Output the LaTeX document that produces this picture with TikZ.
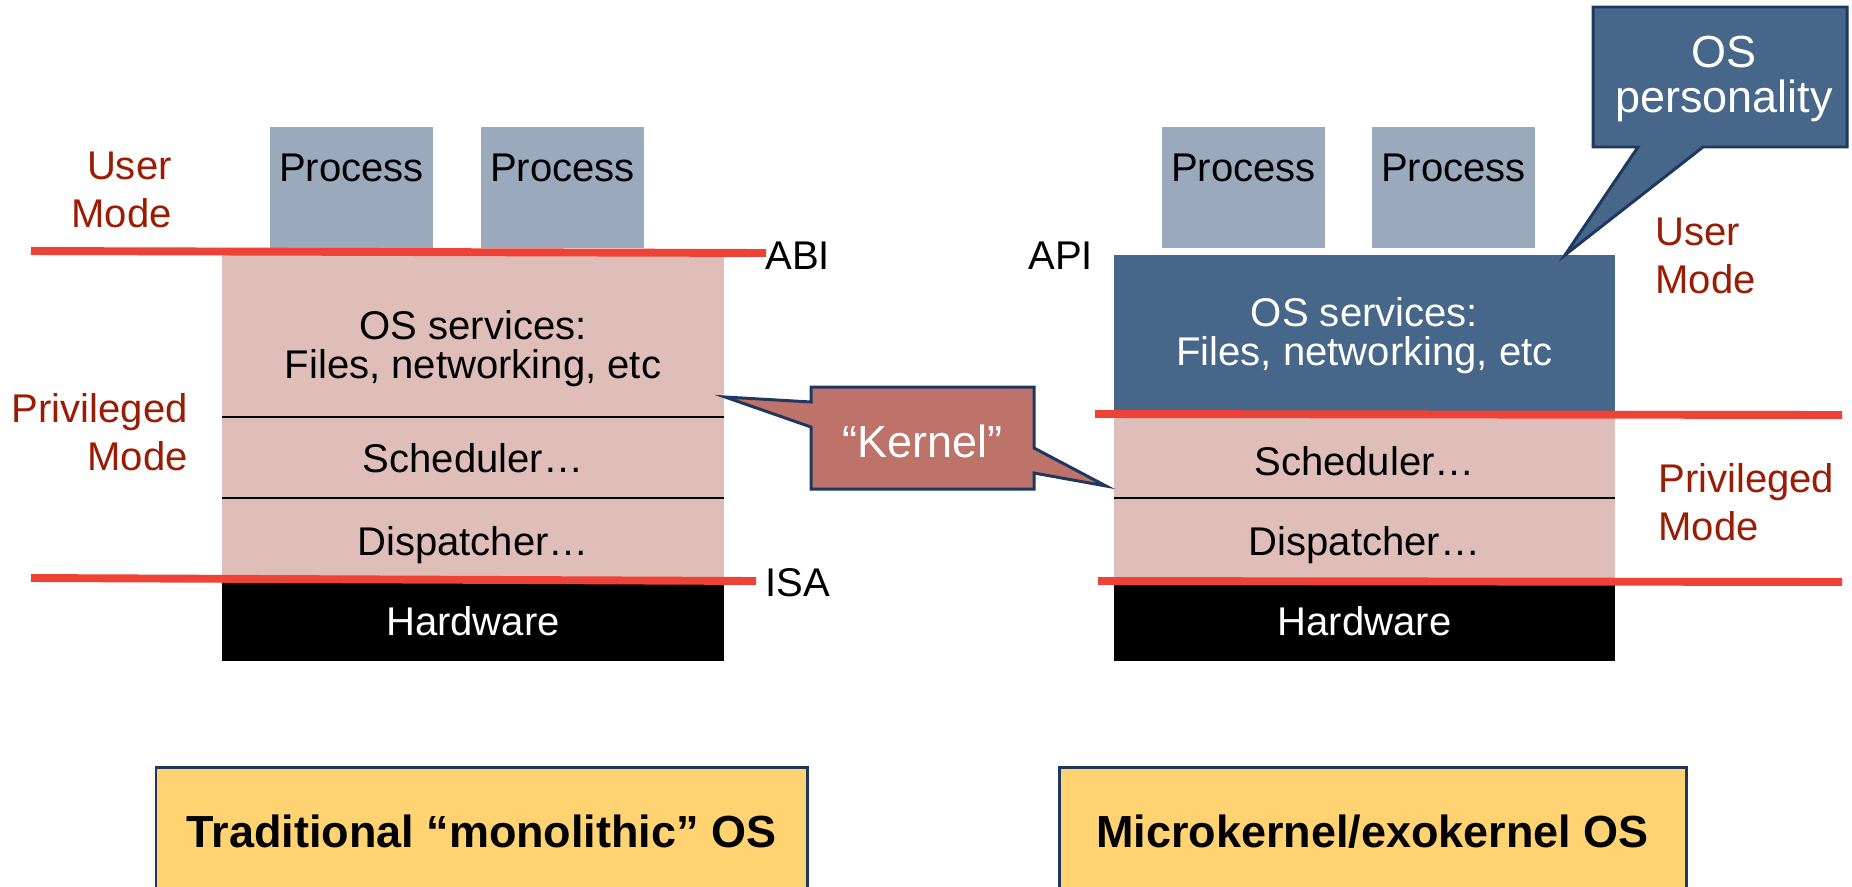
\documentclass[tikz,border=0pt]{standalone}
\usepackage{fontspec}
\setmainfont{Liberation Sans}
\usepackage{tikz}
\usetikzlibrary{positioning,calc}
\definecolor{procgray}{RGB}{154,169,188}
\definecolor{layerpink}{RGB}{223,189,184}
\definecolor{osblue}{RGB}{71,103,138}
\definecolor{kernred}{RGB}{189,115,106}
\definecolor{navy}{RGB}{31,56,96}
\definecolor{modered}{RGB}{155,28,5}
\definecolor{boundred}{RGB}{238,66,54}
\definecolor{notegold}{RGB}{255,211,114}
\tikzstyle{txt}=[inner sep=0pt, anchor=base, font=\fontsize{22.8}{27.3}\selectfont]
\tikzstyle{big}=[inner sep=0pt, anchor=base, font=\fontsize{25.6}{25.6}\selectfont]
\tikzstyle{mode}=[txt, text=modered]
\tikzstyle{bound}=[draw=boundred, line width=4.5pt]
\tikzstyle{divider}=[draw=black, line width=1.1pt]
\tikzstyle{balloon}=[draw=navy, line width=1.7pt, line join=miter]
\tikzstyle{title}=[draw=navy, line width=1.7pt, fill=notegold]

\begin{document}
\begin{tikzpicture}[x=0.02cm,y=-0.02cm]
	\useasboundingbox (0,0) rectangle (1852,886);
	\clip (0,0) rectangle (1852,886);
	
	% monolithic
	\fill[procgray](270,127) rectangle (433,248);
	\fill[procgray](481,127) rectangle (644,248);
	\fill[layerpink](222,252) rectangle (724,579);
	\fill[black](222,579) rectangle (724,661);
	\draw[divider](222,417)--(724,417);
	\draw[divider](222,498)--(724,498);
	\node[txt] (procA)at(351.5,181){Process};
	\node[txt] (procB)at(562.5,181){Process};
	\node[txt, align=center, font=\fontsize{22.8}{22.2}\selectfont] (svcL)at(473,378){OS services:\\Files, networking, etc};
	\node[txt] (schedL)at(473,472){Scheduler…};
	\node[txt] (dispL)at(473,555){Dispatcher…};
	\node[txt, text=white] (hwL)at(473,635){Hardware};
	\draw[bound](31,251)--(766,253);
	\draw[bound](31,578)--(756,581);
	\node[mode, anchor=base east, align=right] (userL)at(172,227){User\\Mode};
	\node[mode, anchor=base east, align=right] (privL)at(188,470){Privileged\\Mode};
	\node[txt, anchor=base west] (abi)at(765,269){ABI};
	\node[txt, anchor=base west] (isa)at(765,596){ISA};
	
	% microkernel
	\fill[procgray](1162,127) rectangle (1325,248);
	\fill[procgray](1372,127) rectangle (1535,248);
	\fill[layerpink](1114,413) rectangle (1615,581);
	\fill[osblue](1114,255) rectangle (1615,413);
	\fill[black](1114,581) rectangle (1615,661);
	\draw[divider](1114,498)--(1615,498);
	\node[txt] (procC)at(1243.5,181){Process};
	\node[txt] (procD)at(1453.5,181){Process};
	\node[txt, text=white, align=center, font=\fontsize{22.8}{22.2}\selectfont] (svcR)at(1364.5,365){OS services:\\Files, networking, etc};
	\node[txt] (schedR)at(1364.5,475){Scheduler…};
	\node[txt] (dispR)at(1364.5,555){Dispatcher…};
	\node[txt, text=white] (hwR)at(1364.5,635){Hardware};
	\draw[bound](1095,414)--(1842,415);
	\draw[bound](1098,581)--(1842,582);
	\node[mode, anchor=base west, align=left] (userR)at(1655,293){User\\Mode};
	\node[mode, anchor=base west, align=left] (privR)at(1658,540){Privileged\\Mode};
	\node[txt, anchor=base west] (api)at(1028,269){API};
	
	% callouts
	\coordinate (kTipL) at (725,397);
	\coordinate (kTipR) at (1106,486);
	\draw[balloon, fill=kernred](811,387)--(1034,387)--(1034,448)--(kTipR)--(1034,473)--(1034,489)--(811,489)--(811,427)--(kTipL)--(811,402)--cycle;
	\node[big, text=white] (kernel)at(922.5,457){“Kernel”};
	\coordinate (pTip) at (1565,255);
	\draw[balloon, fill=osblue](1593,7)--(1847,7)--(1847,147)--(1703,147)--(pTip)--(1638,147)--(1593,147)--cycle;
	\node[big, text=white, align=center] (persona)at(1724,112){OS\\personality};
	
	% titles
	\draw[title](156,767) rectangle (807,900);
	\draw[title](1059,767) rectangle (1686,900);
	\node[big, font=\fontsize{25.6}{25.6}\selectfont\bfseries] (monoT)at(481.5,847){Traditional “monolithic” OS};
	\node[big, font=\fontsize{25.6}{25.6}\selectfont\bfseries] (microT)at(1372.5,847){Microkernel/exokernel OS};
\end{tikzpicture}
\end{document}
